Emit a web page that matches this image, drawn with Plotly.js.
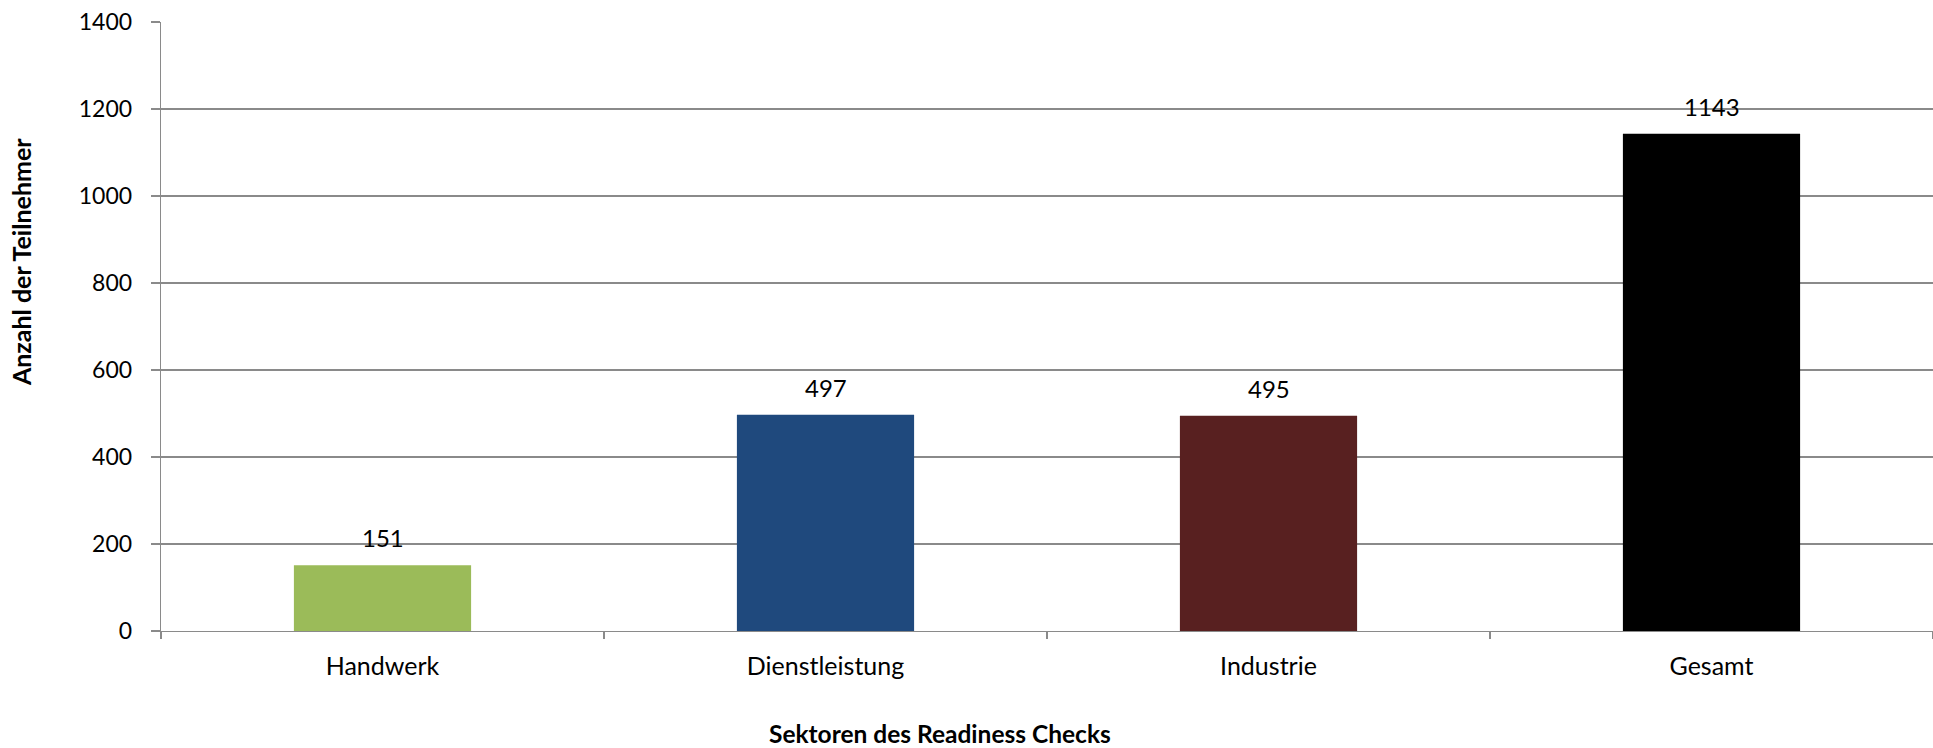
<!DOCTYPE html>
<html>
<head>
<meta charset="utf-8">
<script src="https://cdn.plot.ly/plotly-3.0.1.min.js"></script>
<style>html,body{margin:0;padding:0;background:#fff;}#chart{width:1933px;height:748px;}</style>
</head>
<body>
<div id="chart"></div>
<script>
const categories = ["Handwerk", "Dienstleistung", "Industrie", "Gesamt"];
const values = [151, 497, 495, 1143];
const barColors = ["#9BBB59", "#1F497D", "#582020", "#000000"];
const yTickVals = [0, 200, 400, 600, 800, 1000, 1200, 1400];
const xTitle = "Sektoren des Readiness Checks";
const yTitle = "Anzahl der Teilnehmer";

const FONT = "Lato, 'Open Sans', sans-serif";
const GRID = "#8a8a8a";

const trace = {
  type: "bar",
  x: categories,
  y: values,
  marker: {color: barColors, line: {width: 0}},
  width: 0.4,
  hoverinfo: "x+y"
};

const annotations = categories.map((c, i) => ({
  x: c, y: values[i], xref: "x", yref: "y",
  text: String(values[i]), showarrow: false,
  yanchor: "bottom", yshift: 11,
  font: {family: FONT, size: 24, color: "#000"}
}));
annotations.push({
  xref: "paper", yref: "paper", x: (940 - 161) / (1933 - 161), y: -0.168,
  xanchor: "center", yanchor: "middle", showarrow: false,
  text: "<b>" + xTitle + "</b>",
  font: {family: FONT, size: 24.5, color: "#000"}
});
annotations.push({
  xref: "paper", yref: "paper", x: -0.079, y: (631.5 - 262) / 610,
  xanchor: "center", yanchor: "middle", showarrow: false, textangle: -90,
  text: "<b>" + yTitle + "</b>",
  font: {family: FONT, size: 25, color: "#000"}
});

const layout = {
  width: 1933, height: 748,
  margin: {l: 161, r: 0, t: 21.5, b: 116.5},
  paper_bgcolor: "#fff", plot_bgcolor: "#fff",
  showlegend: false,
  font: {family: FONT, size: 22, color: "#000"},
  xaxis: {
    type: "category",
    tickson: "boundaries",
    ticks: "outside", ticklen: 7, tickwidth: 1.3, tickcolor: GRID,
    showline: true, linecolor: GRID, linewidth: 1.3,
    showgrid: false, zeroline: false,
    tickfont: {family: FONT, size: 25, color: "#000"},
    ticklabelstandoff: 13
  },
  yaxis: {
    range: [0, 1400],
    tickvals: yTickVals,
    ticktext: yTickVals.map(String),
    ticks: "outside", ticklen: 9, tickwidth: 1.3, tickcolor: GRID,
    showline: true, linecolor: GRID, linewidth: 1.3,
    showgrid: true, gridcolor: GRID, gridwidth: 1.3,
    zeroline: false,
    tickfont: {family: FONT, size: 23, color: "#000"},
    ticklabelstandoff: 14
  },
  annotations: annotations
};

Plotly.newPlot("chart", [trace], layout, {displayModeBar: false, staticPlot: true});
</script>
</body>
</html>
